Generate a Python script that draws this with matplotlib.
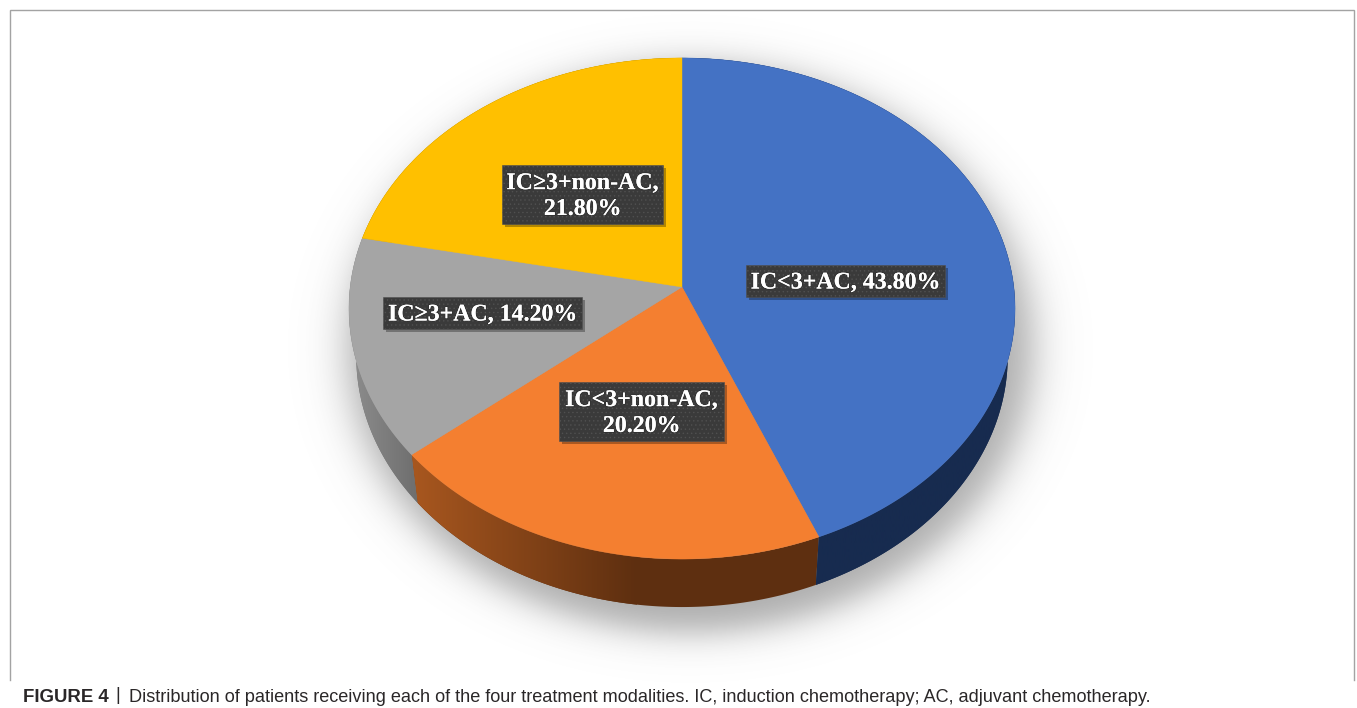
import numpy as np
import matplotlib
matplotlib.use("Agg")
import matplotlib.pyplot as plt
from matplotlib.patches import Rectangle, PathPatch
from matplotlib.path import Path
from matplotlib.colors import LinearSegmentedColormap
import matplotlib.patheffects as pe

# ---------- data ----------
categories = ["IC<3+AC", "IC<3+non-AC", "IC≥3+AC", "IC≥3+non-AC"]
values = [43.80, 20.20, 14.20, 21.80]
labels = ["IC<3+AC, 43.80%", "IC<3+non-AC,\n20.20%", "IC≥3+AC, 14.20%", "IC≥3+non-AC,\n21.80%"]
top_colors = ["#4472C4", "#F47F30", "#A5A5A5", "#FFC000"]
side_left = ["#172B4F", "#A8571F", "#8E8E8E", "#997300"]
side_right = ["#172B4F", "#5E2F10", "#6E6E6E", "#997300"]
label_boxes = [(746, 265, 199, 32), (559, 382, 165, 59), (383, 297, 199, 32), (502, 165, 161, 59)]
caption_bold = "FIGURE 4"
caption_rest = "Distribution of patients receiving each of the four treatment modalities. IC, induction chemotherapy; AC, adjuvant chemotherapy."

plt.rcParams["hatch.color"] = "#505050"
plt.rcParams["hatch.linewidth"] = 0.5

W, H = 1357, 708
fig = plt.figure(figsize=(W / 100, H / 100), dpi=100, facecolor="white")
ax = fig.add_axes([0, 0, 1, 1])
ax.axis("off")

# perspective projection of the unit pie
CX, CY, A, B, K = 682.0, 287.0, 331.8, 248.7, 0.0858
DEPTH, SX = 48.0, 0.978


def project(theta, depth=0.0, sx=1.0):
    u, v = np.sin(theta), np.cos(theta)
    d = 1 + K * v
    return CX + sx * A * u / d, CY + depth - B * v / d


# ---------- soft shadow ----------
yy, xx = np.mgrid[0:H, 0:W]
dist = (np.sqrt(((xx - 690) / 342) ** 2 + ((yy - 348) / 284) ** 2) - 1) * 300
alpha = 0.5 / (1 + np.exp(dist / 11.0))
rgba = np.zeros((H, W, 4))
rgba[..., :3] = 0.35
rgba[..., 3] = alpha
ax.imshow(rgba, extent=(0, W, H, 0), zorder=1, aspect="auto", interpolation="bilinear")

# ---------- wedges ----------
fracs = np.array(values) / np.sum(values)
edges = np.concatenate([[0], np.cumsum(fracs)]) * 2 * np.pi
for i in range(len(values)):
    t = np.linspace(edges[i], edges[i + 1], 240)
    xt, yt = project(t)
    xb, yb = project(t, depth=DEPTH, sx=SX)
    poly = np.vstack([np.column_stack([xt, yt]), np.column_stack([xb, yb])[::-1]])
    path = Path(np.vstack([poly, poly[0]]), closed=True)
    ax.add_patch(PathPatch(path, fc=side_right[i], ec="none", zorder=2))
    patch = PathPatch(path, fc="none", ec="none", zorder=2)
    ax.add_patch(patch)
    cmap = LinearSegmentedColormap.from_list("s", [side_left[i], side_right[i]])
    x0, x1 = poly[:, 0].min(), poly[:, 0].max()
    if i == 1:
        x1 = x0 + 0.55 * (x1 - x0)
    im = ax.imshow(np.linspace(0, 1, 256)[None, :], cmap=cmap, extent=(x0, x1, H, 0),
                   aspect="auto", zorder=2.1)
    im.set_clip_path(patch)

for i in range(len(values)):
    t = np.linspace(edges[i], edges[i + 1], 240)
    xt, yt = project(t)
    ax.fill(np.r_[CX, xt], np.r_[CY, yt], color=top_colors[i], lw=0.3, zorder=3)

# ---------- labels ----------
for (x, y, w, h), text in zip(label_boxes, labels):
    ax.add_patch(Rectangle((x + 3, y + 3), w, h, fc="black", ec="none", alpha=0.3, zorder=4))
    ax.add_patch(Rectangle((x, y), w, h, fc="#3A3A3A", ec="#505050", lw=0.4, hatch="....", zorder=5))
    ax.text(x + w / 2, y + h / 2 + 2, text, family="Liberation Serif", weight="bold", size=17.2,
            color="white", ha="center", va="center", linespacing=1.3, zorder=6,
            path_effects=[pe.withStroke(linewidth=1.2, foreground="#2A2A2A", alpha=0.7), pe.Normal()])

# ---------- frame ----------
ax.plot([9.5, 9.5, 1354, 1354], [680, 10, 10, 680], color="#A3A3A3", lw=1.0, zorder=1, solid_joinstyle="miter")

# ---------- caption ----------
ax.text(23, 697, caption_bold, family="Liberation Sans", weight="bold", size=13.4,
        color="#2A2728", ha="left", va="center")
ax.text(118, 696, "|", family="Liberation Sans", size=13.1, color="#2A2728", ha="center", va="center")
ax.text(129, 697, caption_rest, family="Liberation Sans", size=13.07,
        color="#2A2728", ha="left", va="center")

ax.set_xlim(0, W)
ax.set_ylim(H, 0)
fig.savefig("out.png", dpi=100, facecolor="white")
